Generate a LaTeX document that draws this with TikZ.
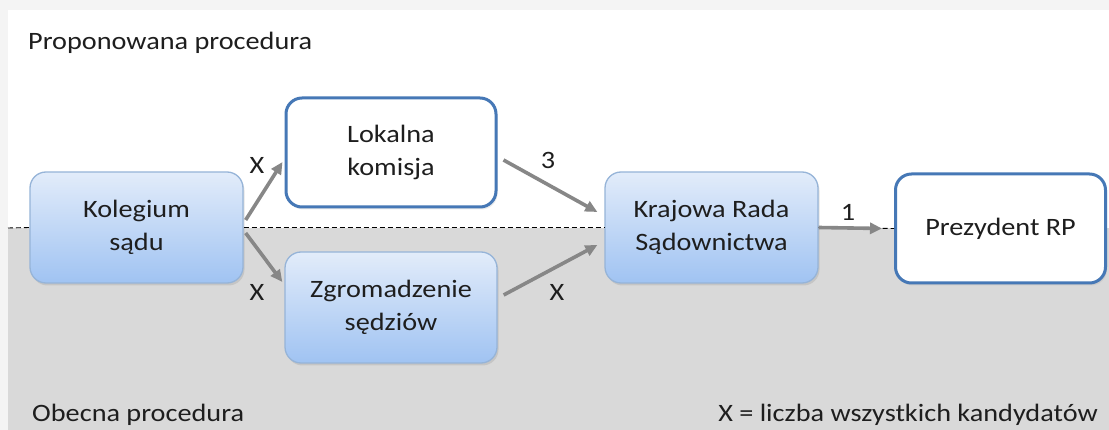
\documentclass[tikz,border=0pt]{standalone}
\usepackage{fontspec}
\setmainfont{Carlito}[FakeStretch=1.13]
\usetikzlibrary{shadows,arrows.meta,calc}
\definecolor{txt}{RGB}{30,30,30}
\definecolor{bgray}{RGB}{217,217,217}
\definecolor{frame}{RGB}{244,244,244}
\definecolor{btop}{RGB}{226,236,250}
\definecolor{bbot}{RGB}{160,195,242}
\definecolor{bedge}{RGB}{150,180,216}
\definecolor{dedge}{RGB}{70,120,182}
\definecolor{arr}{RGB}{135,135,135}
\tikzset{
  every node/.style={text=txt, font=\fontsize{25}{33}\selectfont},
  bluebox/.style={rectangle, rounded corners=16pt, draw=bedge, line width=1.3pt,
    top color=btop, bottom color=bbot, align=center,
    minimum width=213pt, minimum height=111pt, inner sep=0pt,
    drop shadow={opacity=0.22, shadow xshift=1.5pt, shadow yshift=-2.5pt}},
  whitebox/.style={rectangle, rounded corners=16pt, draw=dedge, line width=3pt,
    fill=white, align=center,
    minimum width=210pt, minimum height=109pt, inner sep=0pt,
    drop shadow={opacity=0.15, shadow xshift=1.5pt, shadow yshift=-2.5pt}},
  flow/.style={draw=arr, line width=3.6pt, -{Triangle[length=12pt,width=11pt]}},
  lbl/.style={inner sep=0pt},
  divider/.style={draw=black, line width=0.9pt, dash pattern=on 5pt off 3pt}
}
\begin{document}
\begin{tikzpicture}[x=1pt,y=1pt]
  \useasboundingbox (0,0) rectangle (1109,-430);
  % background
  \fill[frame] (0,0) rectangle (1109,-430);
  \fill[white] (8,-10) rectangle (1109,-228);
  \fill[bgray] (8,-228) rectangle (1109,-430);

  % nodes
  \node[bluebox] (kol) at (136.5,-227.5) {Kolegium\\sądu};
  \node[whitebox] (lok) at (391,-152.5) {Lokalna\\komisja};
  \node[bluebox, minimum width=212pt] (zgr) at (391,-307.5) {Zgromadzenie\\sędziów};
  \node[bluebox] (krs) at (711.5,-227.5) {Krajowa Rada\\Sądownictwa};
  \node[whitebox] (prez) at (1000.5,-228.5) {Prezydent RP};

  % dashed divider
  \coordinate (dl) at (8,-228);
  \draw[divider] (dl) -- (kol.west);
  \draw[divider] (kol.east) -- (krs.west);
  \draw[divider] (krs.east) -- (prez.west);

  % connectors
  \draw[flow] ($(kol.east)+(2,7.5)$) -- ($(lok.west)+(-2,-9.5)$);
  \draw[flow] ($(kol.east)+(2,-5.5)$) -- ($(zgr.west)+(-2,25.5)$);
  \draw[flow] ($(lok.east)+(6,-7.5)$) -- ($(krs.west)+(-7,15.5)$);
  \draw[flow] ($(zgr.east)+(6,12.5)$) -- ($(krs.west)+(-7,-17.5)$);
  \draw[flow] (krs.east) -- ($(prez.west)+(-12,0)$);

  % edge labels
  \node[lbl] (lx1) at (257,-165) {X};
  \node[lbl] (lx2) at (257,-292) {X};
  \node[lbl] (l3) at (548,-160) {3};
  \node[lbl] (lx3) at (557,-292) {X};
  \node[lbl] (l1) at (848,-212) {1};

  % captions
  \node[lbl, anchor=west] (prop) at (28,-43) {Proponowana procedura};
  \node[lbl, anchor=west] (obec) at (32,-415) {Obecna procedura};
  \node[lbl, anchor=east] (legend) at (1098,-415) {X = liczba wszystkich kandydatów};
\end{tikzpicture}
\end{document}
